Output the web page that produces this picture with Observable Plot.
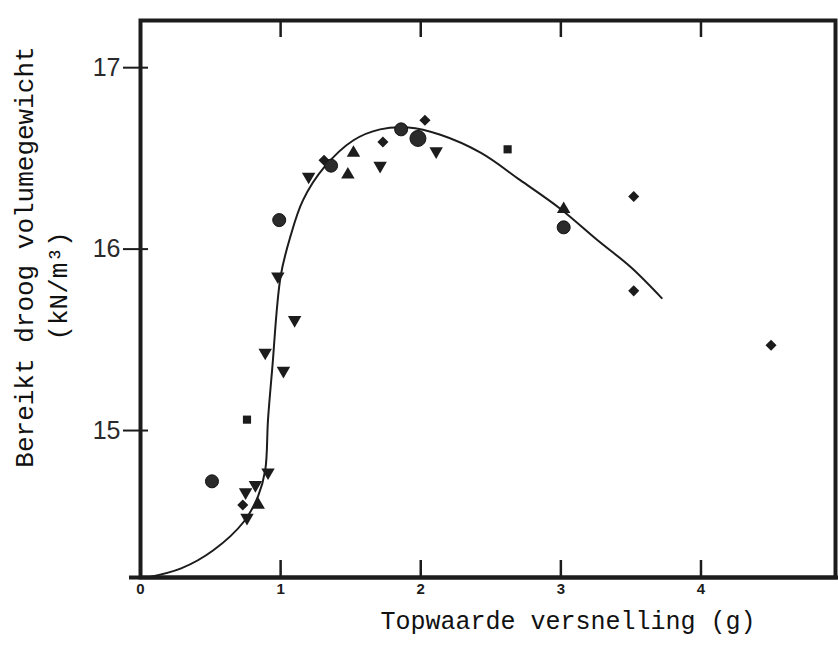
<!DOCTYPE html>
<html>
<head>
<meta charset="utf-8">
<script src="https://cdn.jsdelivr.net/npm/d3@7"></script>
<script src="https://cdn.jsdelivr.net/npm/@observablehq/plot@0.6"></script>
<style>
  html, body { margin: 0; padding: 0; background: #fff; }
  #chart svg { display: block; }
</style>
</head>
<body>
<div id="chart"></div>
<script>
// ---- data ----
const circleX = [0.51, 0.99, 1.36, 1.86, 3.02];
const circleY = [14.72, 16.16, 16.46, 16.66, 16.12];
const bigCircleX = [1.98];
const bigCircleY = [16.61];
const downTriX = [1.20, 0.98, 1.10, 0.89, 1.02, 0.91, 0.82, 0.75, 0.76, 1.71, 2.11];
const downTriY = [16.40, 15.85, 15.61, 15.43, 15.33, 14.77, 14.70, 14.66, 14.52, 16.46, 16.54];
const upTriX = [1.52, 1.48, 0.84, 3.02];
const upTriY = [16.53, 16.41, 14.59, 16.22];
const diamondX = [1.31, 1.73, 2.03, 0.73, 3.52, 3.52, 4.50];
const diamondY = [16.49, 16.59, 16.71, 14.59, 16.29, 15.77, 15.47];
const squareX = [0.76, 2.62];
const squareY = [15.06, 16.55];
// fitted curve
const curveX = [0.05, 0.29, 0.52, 0.74, 0.84, 0.89, 0.91, 0.94, 1.00, 1.07, 1.16, 1.31, 1.52, 1.71, 1.91, 2.14, 2.43, 2.71, 3.00, 3.26, 3.50, 3.72];
const curveY = [14.19, 14.24, 14.34, 14.50, 14.64, 14.78, 15.06, 15.34, 15.85, 16.07, 16.27, 16.45, 16.60, 16.66, 16.67, 16.63, 16.53, 16.38, 16.22, 16.05, 15.90, 15.73];
// ticks and labels
const xTickValues = [0, 1, 2, 3, 4];
const xInnerTicks = [1, 2, 3, 4];
const yTickValues = [15, 16, 17];
const xTitle = "Topwaarde versnelling (g)";
const yTitle1 = "Bereikt droog volumegewicht";
const yTitle2 = "(kN/m³)";

// ---- layout ----
const W = 838, H = 657;
const mL = 140, mR = 3, mT = 20, mB = 80;
const frameW = W - mL - mR, frameH = H - mT - mB;
const xDomain = [0, 4.96];
const yDomain = [14.19, 17.26];

const zip = (xs, ys) => xs.map((x, i) => ({x, y: ys[i]}));

const invTriangle = {
  draw(ctx, size) {
    const s3 = Math.sqrt(3);
    const y = -Math.sqrt(size / (s3 * 3));
    ctx.moveTo(0, -2 * y);
    ctx.lineTo(-s3 * y, y);
    ctx.lineTo(s3 * y, y);
    ctx.closePath();
  }
};

const ink = "#1c1c1c";

const chart = Plot.plot({
  width: W,
  height: H,
  marginLeft: mL,
  marginRight: mR,
  marginTop: mT,
  marginBottom: mB,
  style: {background: "#fff", color: ink},
  x: {domain: xDomain},
  y: {domain: yDomain},
  marks: [
    Plot.line(zip(curveX, curveY), {x: "x", y: "y", curve: "catmull-rom", stroke: ink, strokeWidth: 2}),
    Plot.dot(zip(circleX, circleY), {x: "x", y: "y", r: 6.5, symbol: "circle", fill: "#2b2b2b", stroke: "#111", strokeWidth: 1}),
    Plot.dot(zip(bigCircleX, bigCircleY), {x: "x", y: "y", r: 8, symbol: "circle", fill: "#2b2b2b", stroke: "#111", strokeWidth: 1}),
    Plot.dot(zip(downTriX, downTriY), {x: "x", y: "y", r: 5, symbol: invTriangle, fill: ink, stroke: "none"}),
    Plot.dot(zip(upTriX, upTriY), {x: "x", y: "y", r: 5, symbol: "triangle", fill: ink, stroke: "none"}),
    Plot.dot(zip(diamondX, diamondY), {x: "x", y: "y", r: 5, symbol: "diamond2", fill: ink, stroke: "none"}),
    Plot.dot(zip(squareX, squareY), {x: "x", y: "y", r: 4.6, symbol: "square", fill: ink, stroke: "none"}),
    // inward ticks at top and bottom of the frame
    Plot.tickX(xInnerTicks, {x: d => d, insetBottom: frameH - 17, stroke: ink, strokeWidth: 2.5}),
    Plot.tickX(xInnerTicks, {x: d => d, insetTop: frameH - 17, stroke: ink, strokeWidth: 2.5}),
    // y ticks crossing the left frame
    Plot.tickY(yTickValues, {y: d => d, insetRight: frameW - 8, stroke: ink, strokeWidth: 2}),
    Plot.axisY({ticks: yTickValues, tickFormat: d => String(d), tickSize: 17, tickPadding: 3, strokeWidth: 2, fontSize: 25, fontFamily: "Liberation Sans, Arial, sans-serif", fill: "#2a2a2a", label: null}),
    Plot.axisX({ticks: xTickValues, tickFormat: d => String(d), tickSize: 0, tickPadding: 6, fontSize: 15, fontWeight: "bold", fontFamily: "Liberation Sans, Arial, sans-serif", label: null}),
    Plot.frame({stroke: ink, strokeWidth: 4}),
    Plot.ruleY([yDomain[0]], {insetLeft: -11, insetRight: -3, stroke: ink, strokeWidth: 4}),
    Plot.text([xTitle], {frameAnchor: "bottom", dx: 80, dy: 43, lineAnchor: "middle", textAnchor: "middle", fontFamily: "Liberation Mono, Courier New, monospace", fontSize: 25, fill: "#111"}),
    Plot.text([yTitle1], {frameAnchor: "left", rotate: -90, dx: -116, dy: -42, textAnchor: "middle", lineAnchor: "middle", fontFamily: "Liberation Mono, Courier New, monospace", fontSize: 26, fill: "#111"}),
    Plot.text([yTitle2], {frameAnchor: "left", rotate: -90, dx: -82, dy: -13, textAnchor: "middle", lineAnchor: "middle", fontFamily: "Liberation Mono, Courier New, monospace", fontSize: 26, fill: "#111"})
  ]
});

document.getElementById("chart").appendChild(chart);
</script>
</body>
</html>
